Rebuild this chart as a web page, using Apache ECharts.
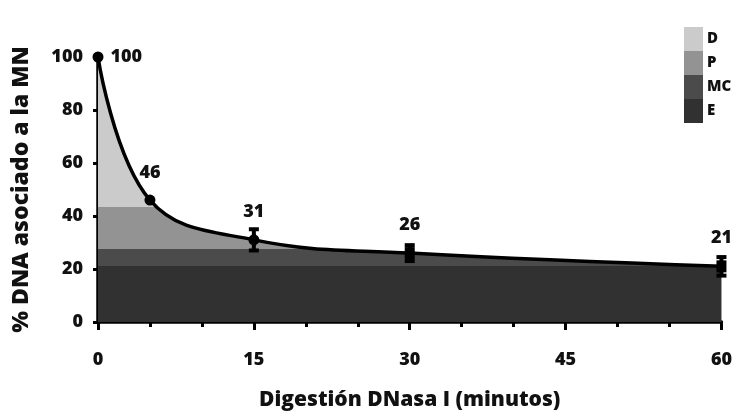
<!DOCTYPE html>
<html>
<head>
<meta charset="utf-8">
<script src="https://cdn.jsdelivr.net/npm/echarts@6/dist/echarts.min.js"></script>
<style>html,body{margin:0;padding:0;background:#fff;}#c{width:735px;height:416px;}</style>
</head>
<body>
<div id="c"></div>
<script>
// Data
var minutes = [0, 5, 15, 30, 60];
var dnaPct = [100, 46, 31, 26, 21];
var errPct = [0, 0, 4, 3, 3.5];
var xTicks = [0, 15, 30, 45, 60];
var yTicks = [0, 20, 40, 60, 80, 100];
// Fraction bands (lower/upper bounds in %)
var bandNames = ['E', 'MC', 'P', 'D'];
var bandLower = [null, 21, 27.5, 43.5];
var bandUpper = [21, 27.5, 43.5, null];
var bandColors = ['#313131', '#4b4b4b', '#939393', '#cbcbcb'];

var FONT = 'Open Sans';
var W = 800;
var points = minutes.map(function (m, i) { return [m, dnaPct[i]]; });
var labelled = points.map(function (p, i) {
  if (i === 0) return { value: p, label: { position: 'right', distance: 7 } };
  return { value: p };
});
var pieces = bandNames.map(function (n, i) {
  var o = { label: n, color: bandColors[i] };
  if (bandLower[i] != null) o.gte = bandLower[i];
  if (bandUpper[i] != null) o.lt = bandUpper[i];
  return o;
});
var errData = minutes.map(function (m, i) { return [m, dnaPct[i] - errPct[i], dnaPct[i] + errPct[i]]; });

var chart = echarts.init(document.getElementById('c'));
chart.setOption({
  animation: false,
  textStyle: { fontFamily: FONT },
  grid: { left: 98, right: 13, top: 57, bottom: 93 },
  xAxis: {
    type: 'value', min: 0, max: 60, interval: 15,
    name: 'Digestión DNasa I (minutos)', nameLocation: 'middle', nameGap: 68,
    nameTextStyle: { fontFamily: FONT, fontWeight: W, fontSize: 21, color: '#111' },
    axisLine: { show: true, lineStyle: { color: '#000', width: 3.5 } },
    axisTick: { show: true, length: 8, lineStyle: { color: '#000', width: 3 } },
    minorTick: { show: true, splitNumber: 3, length: 5, lineStyle: { color: '#000', width: 3 } },
    splitLine: { show: false },
    axisLabel: { margin: 29, fontFamily: FONT, fontWeight: W, fontSize: 18, color: '#111',
      formatter: function (v) { return xTicks.indexOf(v) >= 0 ? String(v) : ''; } }
  },
  yAxis: {
    type: 'value', min: 0, max: 100, interval: 20,
    name: '% DNA asociado a la MN', nameLocation: 'middle', nameGap: 65, nameRotate: 90,
    nameTextStyle: { fontFamily: FONT, fontWeight: W, fontSize: 23, color: '#111' },
    axisLine: { show: true, lineStyle: { color: '#000', width: 3.5 } },
    axisTick: { show: true, length: 5, lineStyle: { color: '#000', width: 3 } },
    splitLine: { show: false },
    axisLabel: { margin: 15, fontFamily: FONT, fontWeight: W, fontSize: 18, color: '#111',
      formatter: function (v) { return yTicks.indexOf(v) >= 0 ? String(v) : ''; } }
  },
  visualMap: {
    type: 'piecewise', seriesIndex: 0, dimension: 1,
    pieces: pieces,
    orient: 'vertical', left: 669, top: 12, align: 'left',
    itemWidth: 19, itemHeight: 24, itemGap: 0, itemSymbol: 'rect',
    textGap: 4,
    hoverLink: false, selectedMode: false,
    textStyle: { fontFamily: FONT, fontWeight: W, fontSize: 15, color: '#111' }
  },
  series: [
    {
      type: 'line', data: points, smooth: 0.4, showSymbol: false, silent: true,
      lineStyle: { width: 0 }, areaStyle: { opacity: 1 }, z: 1
    },
    {
      type: 'line', data: labelled, smooth: 0.4,
      symbol: function (v, p) { return p.dataIndex >= 3 ? 'rect' : 'circle'; },
      symbolSize: function (v, p) { return p.dataIndex >= 3 ? [10, 12] : 11; },
      itemStyle: { color: '#000' }, lineStyle: { color: '#000', width: 3.5 }, z: 3,
      label: { show: true, position: 'top', distance: 13, fontFamily: FONT, fontWeight: W, fontSize: 18, color: '#111' }
    },
    {
      type: 'custom', z: 4, data: errData,
      renderItem: function (params, api) {
        if (api.value(2) === api.value(1)) return null;
        var lo = api.coord([api.value(0), api.value(1)]);
        var hi = api.coord([api.value(0), api.value(2)]);
        var w = 5;
        var st = { stroke: '#000', lineWidth: 4 };
        return { type: 'group', children: [
          { type: 'line', shape: { x1: lo[0], y1: lo[1], x2: hi[0], y2: hi[1] }, style: st },
          { type: 'line', shape: { x1: lo[0] - w, y1: lo[1], x2: lo[0] + w, y2: lo[1] }, style: st },
          { type: 'line', shape: { x1: hi[0] - w, y1: hi[1], x2: hi[0] + w, y2: hi[1] }, style: st }
        ]};
      }
    }
  ]
});
</script>
</body>
</html>
